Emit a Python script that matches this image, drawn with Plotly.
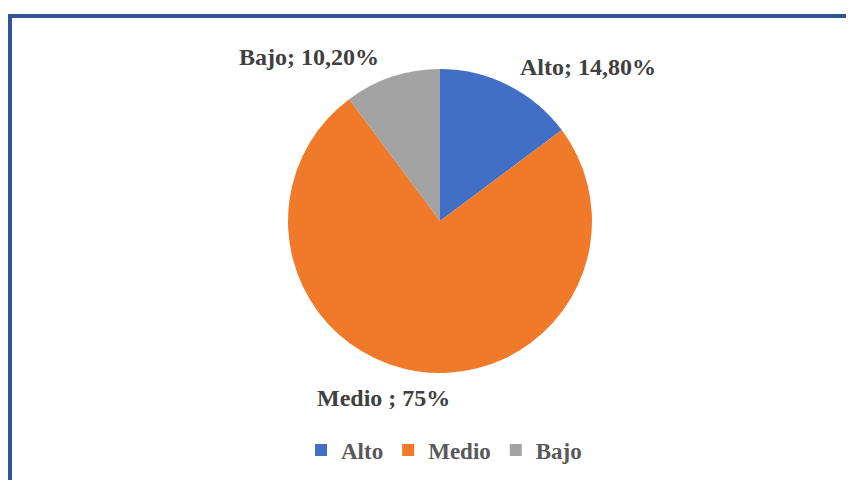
import plotly.graph_objects as go

categories = ["Alto", "Medio", "Bajo"]
values = [14.8, 75.0, 10.2]
label_texts = ["Alto; 14,80%", "Medio ; 75%", "Bajo; 10,20%"]
colors = ["#416FC6", "#F07A29", "#A3A3A3"]

# page offset of the plot div (default body margin)
OFF = 8
W, H = 854 - OFF, 480 - OFF

def px(x):
    return (x - OFF) / W

def py(y):
    return 1 - (y - OFF) / H

cx, cy, r = 440, 221, 152

fig = go.Figure()
fig.add_trace(go.Pie(
    labels=categories,
    values=values,
    sort=False,
    direction="clockwise",
    rotation=0,
    marker=dict(colors=colors, line=dict(width=0)),
    textinfo="none",
    hoverinfo="label+percent",
    domain=dict(x=[px(cx - r), px(cx + r)], y=[py(cy + r), py(cy - r)]),
    showlegend=True,
))

label_pos = [(588, 67), (383, 398), (309, 57)]
for txt, (x, y) in zip(label_texts, label_pos):
    fig.add_annotation(
        x=px(x), y=py(y), xref="paper", yref="paper",
        text="<b>" + txt + "</b>", showarrow=False,
        xanchor="center", yanchor="middle",
        font=dict(family="Liberation Serif", size=24, color="#404040"),
    )

fig.add_shape(
    type="rect", xref="paper", yref="paper",
    x0=px(10), x1=1.05, y0=-0.05, y1=py(16),
    line=dict(color="#2F5597", width=4), fillcolor="rgba(0,0,0,0)",
)

fig.update_layout(
    width=W, height=H,
    margin=dict(l=0, r=0, t=0, b=0),
    paper_bgcolor="white",
    plot_bgcolor="white",
    legend=dict(
        orientation="h", x=px(444), xanchor="center", y=py(450), yanchor="middle",
        font=dict(family="Liberation Serif", size=23, color="#595959", weight="bold"),
        itemwidth=30, tracegroupgap=0,
    ),
)

fig.write_html("out.html")
